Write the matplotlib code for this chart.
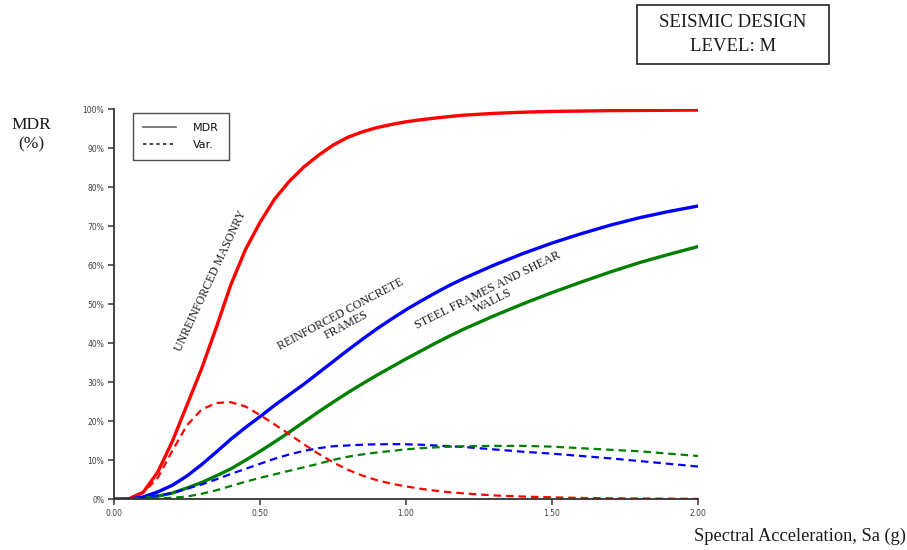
import matplotlib
matplotlib.use("Agg")
import matplotlib.pyplot as plt
from matplotlib.lines import Line2D
from matplotlib.patches import Rectangle

# Spectral acceleration Sa (g)
sa = [0, 0.05, 0.1, 0.15, 0.2, 0.25, 0.3, 0.35, 0.4, 0.45, 0.5, 0.55, 0.6,
      0.65, 0.7, 0.75, 0.8, 0.85, 0.9, 0.95, 1.0, 1.05, 1.1, 1.15, 1.2,
      1.3, 1.4, 1.5, 1.6, 1.7, 1.8, 1.9, 2.0]

# mean damage ratio (%)
mdr_masonry = [0, 0.1, 1.8, 7.0, 14.9, 24.2, 33.5, 44.0, 55.0, 64.0, 71.0, 77.0, 81.5,
               85.2, 88.2, 90.8, 92.8, 94.2, 95.3, 96.1, 96.8, 97.3, 97.75, 98.15, 98.5,
               98.95, 99.25, 99.45, 99.55, 99.65, 99.7, 99.75, 99.8]
mdr_concrete = [0, 0.05, 0.6, 1.9, 3.6, 6.0, 8.9, 12.1, 15.4, 18.4, 21.2, 24.1, 26.8,
                29.5, 32.4, 35.3, 38.2, 41.0, 43.7, 46.2, 48.6, 50.8, 52.9, 54.9, 56.7,
                60.0, 63.0, 65.7, 68.1, 70.3, 72.2, 73.8, 75.2]
mdr_steel = [0, 0, 0.2, 0.8, 1.6, 2.9, 4.3, 6.0, 7.8, 10.0, 12.3, 14.7, 17.2,
             19.8, 22.4, 24.9, 27.3, 29.6, 31.8, 33.9, 36.0, 38.0, 40.0, 41.9, 43.7,
             47.0, 50.1, 53.0, 55.7, 58.3, 60.7, 62.8, 64.8]

# variance (%)
var_masonry = [0, 0.1, 1.7, 5.5, 12.5, 19.0, 23.0, 24.7, 24.9, 23.8, 21.6, 19.2, 16.7,
               14.1, 11.7, 9.5, 7.6, 6.1, 4.9, 4.0, 3.3, 2.7, 2.2, 1.8, 1.5,
               1.0, 0.7, 0.5, 0.35, 0.25, 0.2, 0.15, 0.1]
var_concrete = [0, 0.05, 0.4, 1.0, 1.6, 2.7, 3.8, 5.1, 6.5, 7.8, 9.1, 10.4, 11.5,
                12.4, 13.1, 13.6, 13.8, 14.0, 14.1, 14.15, 14.1, 14.0, 13.8, 13.6, 13.4,
                12.8, 12.2, 11.7, 11.1, 10.5, 9.8, 9.1, 8.4]
var_steel = [0, 0, 0.05, 0.2, 0.4, 0.7, 1.4, 2.3, 3.4, 4.5, 5.5, 6.4, 7.3,
             8.2, 9.1, 10.1, 10.9, 11.5, 12.0, 12.4, 12.8, 13.1, 13.3, 13.5, 13.6,
             13.7, 13.7, 13.5, 13.1, 12.7, 12.3, 11.7, 11.1]

x_ticks = [0, 0.5, 1.0, 1.5, 2.0]
y_ticks = list(range(0, 101, 10))

RED, BLUE, GREEN = "#ff0000", "#0000ff", "#008000"

fig = plt.figure(figsize=(9.07, 5.5), dpi=100)
ax = fig.add_axes([0.1257, 0.0922, 0.6439, 0.7091])

lw_solid, lw_dash = 2.4, 1.6
dash = (0, (3.4, 2.2))
ax.plot(sa, mdr_masonry, color=RED, lw=lw_solid)
ax.plot(sa, mdr_concrete, color=BLUE, lw=lw_solid)
ax.plot(sa, mdr_steel, color=GREEN, lw=lw_solid)
ax.plot(sa, var_masonry, color=RED, lw=lw_dash, ls=dash)
ax.plot(sa, var_concrete, color=BLUE, lw=lw_dash, ls=dash)
ax.plot(sa, var_steel, color=GREEN, lw=lw_dash, ls=dash)

ax.set_xlim(0, 2.0)
ax.set_ylim(0, 100)
ax.set_xticks(x_ticks)
ax.set_xticklabels([f"{v:.2f}" for v in x_ticks])
ax.set_yticks(y_ticks)
ax.set_yticklabels([f"{v}%" for v in y_ticks])
for s in ("top", "right"):
    ax.spines[s].set_visible(False)
for s in ("left", "bottom"):
    ax.spines[s].set_linewidth(1.3)
    ax.spines[s].set_color("#333333")
ax.tick_params(direction="out", length=4, width=1.1, color="#333333",
               labelsize=5.5, labelcolor="#404040", pad=3)

# legend
handles = [Line2D([], [], color="#666666", lw=1.2),
           Line2D([], [], color="#222222", lw=1.2, ls=(0, (2, 2)))]
leg = ax.legend(handles, ["MDR", "Var."], loc="upper left",
                bbox_to_anchor=(0.032, 0.99), frameon=True, fancybox=False,
                prop={"family": "DejaVu Sans", "size": 8},
                handlelength=3.0, handletextpad=1.5, borderpad=0.9,
                labelspacing=0.6, borderaxespad=0)
leg.get_frame().set_edgecolor("#222222")
leg.get_frame().set_linewidth(1.0)
for t in leg.get_texts():
    t.set_color("#111111")

serif = "Liberation Serif"
txt = "#1a1a1a"
ax.text(0.333, 56.0, "UNREINFORCED MASONRY", rotation=65, rotation_mode="anchor",
        ha="center", va="center", fontsize=8.6, family=serif, color=txt)
ax.text(0.785, 46.0, "REINFORCED CONCRETE\nFRAMES", rotation=28, rotation_mode="anchor",
        ha="center", va="center", fontsize=8.6, family=serif, color=txt,
        multialignment="center", linespacing=1.0)
ax.text(1.29, 52.3, "STEEL FRAMES AND SHEAR\nWALLS", rotation=26.5, rotation_mode="anchor",
        ha="center", va="center", fontsize=8.8, family=serif, color=txt,
        multialignment="center", linespacing=1.0)

fig.text(0.034, 0.755, "MDR\n(%)", ha="center", va="center", fontsize=12.5,
         family=serif, color=txt, linespacing=1.35)
fig.text(0.999, 0.024, "Spectral Acceleration, Sa (g)", ha="right", va="center",
         fontsize=13.2, family=serif, color=txt)

# design level box
fig.patches.append(Rectangle((637 / 907, 1 - 64 / 550), 192 / 907, 59 / 550,
                             transform=fig.transFigure, fill=False,
                             edgecolor="#222222", lw=1.2))
fig.text(733 / 907, 1 - 34.5 / 550, "SEISMIC DESIGN\nLEVEL: M", ha="center",
         va="center", fontsize=13.5, family=serif, color=txt, linespacing=1.55)

fig.savefig("out.png", dpi=100)
